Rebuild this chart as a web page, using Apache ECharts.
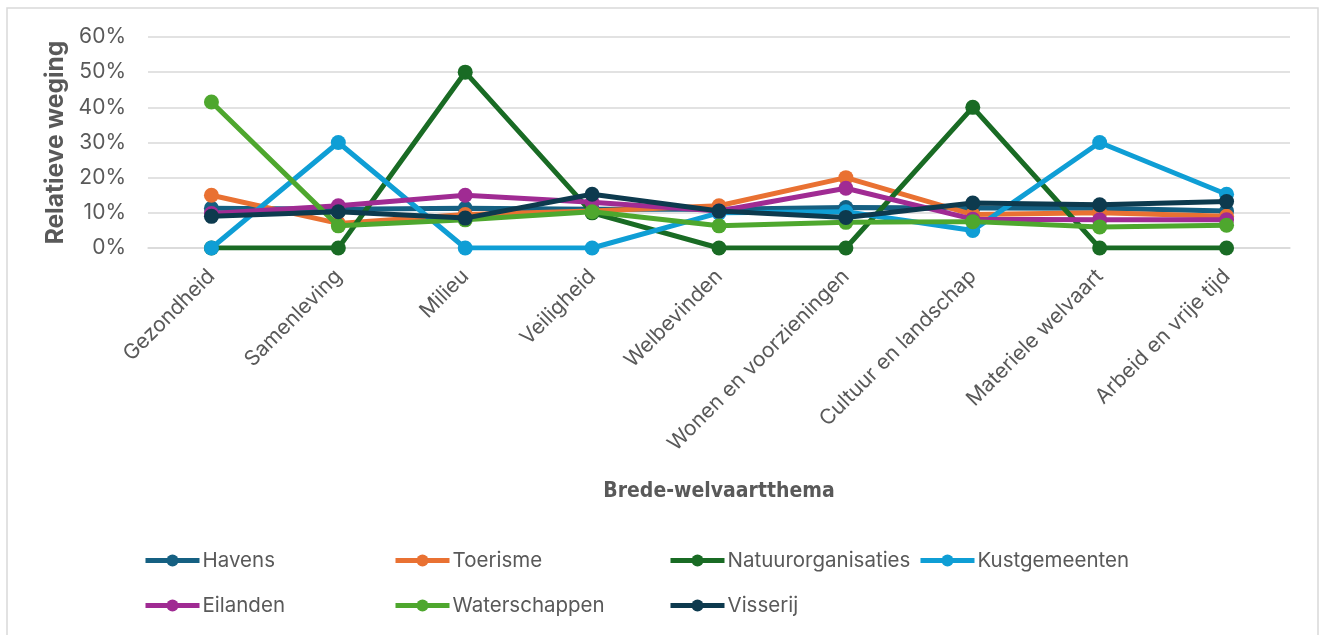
<!DOCTYPE html>
<html>
<head>
<meta charset="utf-8">
<script src="https://cdn.jsdelivr.net/npm/echarts@6/dist/echarts.min.js"></script>
<style>
html,body{margin:0;padding:0;background:#fff;}
#chart{width:1325px;height:635px;}
</style>
</head>
<body>
<div id="chart"></div>
<script>
const categories = ['Gezondheid','Samenleving','Milieu','Veiligheid','Welbevinden','Wonen en voorzieningen','Cultuur en landschap','Materiele welvaart','Arbeid en vrije tijd'];
const yTicks = [0, 10, 20, 30, 40, 50, 60];
const havens = [11.3, 11.0, 11.3, 11.0, 11.0, 11.5, 11.4, 11.3, 10.5];
const toerisme = [15.0, 7.0, 9.5, 10.5, 12.0, 20.0, 9.5, 10.0, 9.0];
const natuurorganisaties = [0, 0, 50, 10, 0, 0, 40, 0, 0];
const kustgemeenten = [0, 30, 0, 0, 10.0, 10.3, 5.0, 30, 15.3];
const eilanden = [9.8, 12.0, 15.0, 13.0, 10.5, 17.0, 8.2, 8.0, 8.0];
const waterschappen = [41.5, 6.3, 8.0, 10.3, 6.3, 7.3, 7.5, 6.0, 6.5];
const visserij = [9.0, 10.3, 8.5, 15.3, 10.5, 8.7, 12.8, 12.3, 13.2];

const seriesNames = ['Havens','Toerisme','Natuurorganisaties','Kustgemeenten','Eilanden','Waterschappen','Visserij'];
const seriesData = [havens, toerisme, natuurorganisaties, kustgemeenten, eilanden, waterschappen, visserij];
const colors = ['#156082','#E97132','#196B24','#0F9ED5','#A02B93','#4EA72E','#0D3A4E'];

const FONT = 'Inter, "Noto Sans", sans-serif';
const TXT = '#595959';

const legendPos = [
  {left: 143, top: 550}, {left: 393, top: 550}, {left: 668, top: 550}, {left: 918, top: 550},
  {left: 143, top: 595}, {left: 393, top: 595}, {left: 668, top: 595}
];

const chart = echarts.init(document.getElementById('chart'), null, {renderer: 'canvas'});
chart.setOption({
  backgroundColor: '#fff',
  color: colors,
  animation: false,
  graphic: [{
    type: 'rect', shape: {x: 7, y: 8, width: 1311, height: 700},
    style: {fill: 'none', stroke: '#d9d9d9', lineWidth: 1.5}, silent: true, z: -10
  }],
  legend: seriesNames.map((n, i) => ({
    data: [n], left: legendPos[i].left, top: legendPos[i].top,
    itemWidth: 54, itemHeight: 15, itemGap: 0, padding: 0,
    lineStyle: {width: 5},
    textStyle: {color: TXT, fontSize: 20.5, fontFamily: FONT, padding: [0, 0, 0, -2]}
  })),
  grid: {left: 148, right: 35, top: 37, bottom: 387, containLabel: false},
  xAxis: {
    type: 'category', data: categories, boundaryGap: true,
    axisLine: {show: true, lineStyle: {color: '#d9d9d9', width: 1.5}},
    axisTick: {show: false},
    axisLabel: {rotate: 45, margin: 25, color: TXT, fontSize: 21, fontFamily: FONT, interval: 0},
    name: 'Brede-welvaartthema', nameLocation: 'middle', nameGap: 233,
    nameTextStyle: {color: TXT, fontSize: 21, fontWeight: 'bold', fontFamily: '"Liberation Sans Narrow", "DejaVu Sans Condensed", Inter, sans-serif'}
  },
  yAxis: {
    type: 'value', min: 0, max: 60, interval: 10,
    axisLine: {show: false}, axisTick: {show: false},
    splitLine: {lineStyle: {color: '#d9d9d9', width: 1.5}},
    axisLabel: {formatter: v => yTicks.includes(v) ? v + '%' : '', color: TXT, fontSize: 21, fontFamily: FONT, margin: 22},
    name: 'Relatieve weging', nameLocation: 'middle', nameGap: 78, nameRotate: 90,
    nameTextStyle: {color: TXT, fontSize: 24.5, fontWeight: 'bold', fontFamily: FONT}
  },
  series: seriesNames.map((n, i) => ({
    name: n, type: 'line', data: seriesData[i],
    symbol: 'circle', symbolSize: 15,
    lineStyle: {width: 5, color: colors[i]},
    itemStyle: {color: colors[i]},
    z: 2 + i
  }))
});
</script>
</body>
</html>
